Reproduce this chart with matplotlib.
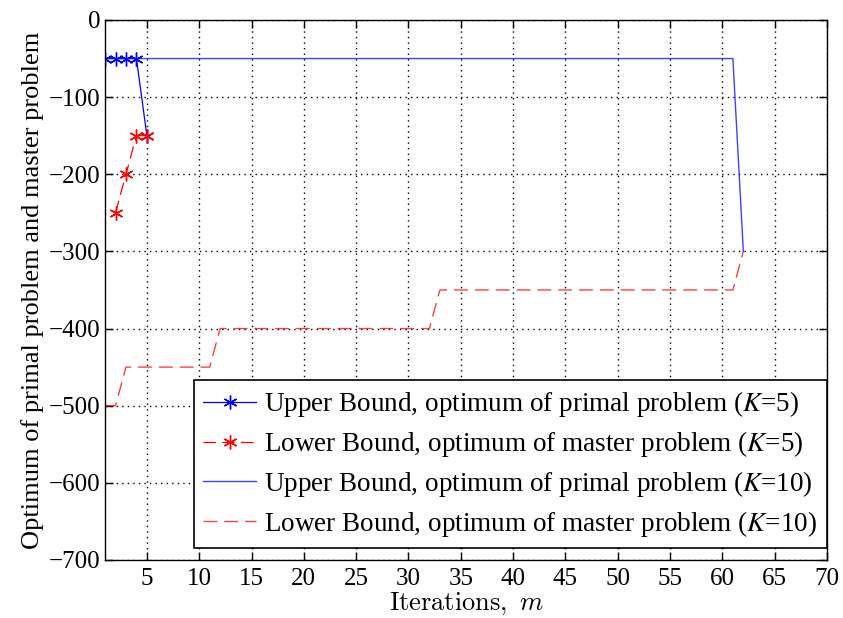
import numpy as np
import matplotlib
matplotlib.use("Agg")
import matplotlib.pyplot as plt

plt.rcParams['font.family'] = ['Liberation Serif', 'DejaVu Serif']
plt.rcParams['mathtext.fontset'] = 'stix'

# --- datos K=5 ---
it_up5 = [1, 2, 3, 4, 5]
up5 = [-50, -50, -50, -50, -150]
it_lo5 = [2, 3, 4, 5]
lo5 = [-250, -200, -150, -150]

# --- datos K=10 ---
it10 = np.arange(1, 63)
up10 = [-50] * 61 + [-300]
lo10 = [-500] * 2 + [-450] * 9 + [-400] * 21 + [-350] * 29 + [-300]

xticks = np.arange(5, 75, 5)
yticks = np.arange(-700, 100, 100)

fig = plt.figure(figsize=(8.43, 6.18), dpi=100)
ax = fig.add_axes([0.1246, 0.0939, 0.8565, 0.8738])

star = (6, 2, 0)
ax.plot(it_up5, up5, color='b', lw=0.9, marker=star, ms=10, mew=1.0,
        label='Upper Bound, optimum of primal problem ($K$=5)')
ax.plot(it_lo5, lo5, color='r', lw=0.9, ls='--', dashes=(10, 5), marker=star, ms=10, mew=1.0,
        label='Lower Bound, optimum of master problem ($K$=5)')
ax.plot(it10, up10, color='b', lw=1.0, alpha=0.75,
        label='Upper Bound, optimum of primal problem ($K$=10)')
ax.plot(it10, lo10, color='r', lw=1.0, alpha=0.75, ls='--', dashes=(10, 5),
        label='Lower Bound, optimum of master problem ($K$=10)')

ax.set_xlim(1, 70)
ax.set_ylim(-700, 0)
ax.set_xticks(xticks)
ax.set_yticks(yticks)
ax.grid(True, color='k', ls=(0, (1, 3)), lw=1.0)
ax.tick_params(direction='in', top=True, right=True, length=6, labelsize=18, width=1)
ax.tick_params(axis='x', pad=6)
for s in ax.spines.values():
    s.set_linewidth(1.0)

# la etiqueta x va en fuente LaTeX (Computer Modern)
ax.set_xlabel(r'$\mathrm{Iterations,}\ m$', fontsize=19, labelpad=0, math_fontfamily='cm')
ax.set_ylabel('Optimum of primal problem and master problem', fontsize=19, labelpad=3)

leg = ax.legend(loc='lower right', bbox_to_anchor=(1.0, 0.022), borderaxespad=0,
                fontsize=19.5, fancybox=False, framealpha=1, edgecolor='k',
                handlelength=1.95, labelspacing=0.36, borderpad=0.35, handletextpad=0.3)
leg.get_frame().set_linewidth(1.2)

fig.savefig('out.png', dpi=100)
